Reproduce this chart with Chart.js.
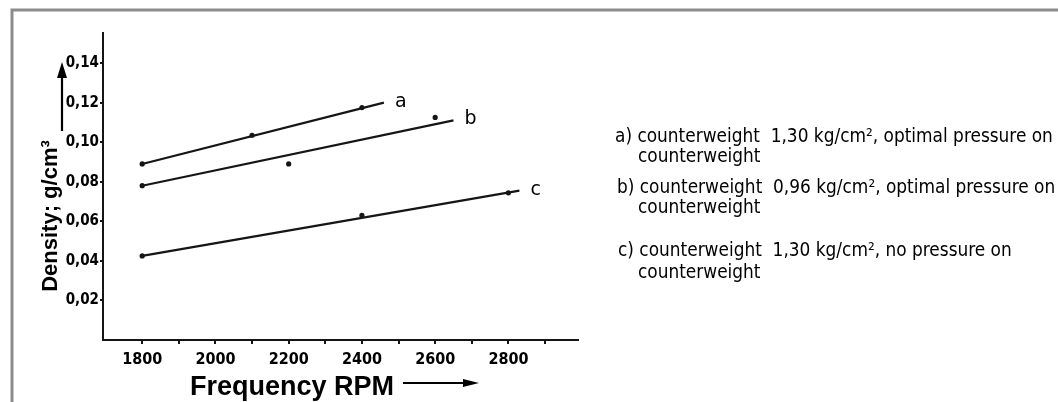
<!DOCTYPE html>
<html>
<head>
<meta charset="utf-8">
<script src="https://cdn.jsdelivr.net/npm/chart.js@4.4.1/dist/chart.umd.min.js"></script>
<style>
html,body{margin:0;padding:0;background:#fff;}
#wrap{width:1058px;height:402px;position:relative;}
canvas{display:block;}
</style>
</head>
<body>
<div id="wrap"><canvas id="chart" width="1058" height="402"></canvas></div>
<script>
// ---- data ----
const seriesNames = ['a', 'b', 'c'];

const aLineX = [1800, 2460];
const aLineY = [0.089, 0.120];
const aPointX = [1800, 2100, 2400];
const aPointY = [0.089, 0.1035, 0.1175];

const bLineX = [1800, 2650];
const bLineY = [0.078, 0.111];
const bPointX = [1800, 2200, 2600];
const bPointY = [0.078, 0.089, 0.1125];

const cLineX = [1800, 2830];
const cLineY = [0.0425, 0.0755];
const cPointX = [1800, 2400, 2800];
const cPointY = [0.0425, 0.063, 0.0744];

const xTickValues = [1800, 1900, 2000, 2100, 2200, 2300, 2400, 2500, 2600, 2700, 2800, 2900];
const xTickLabels = ['1800', '', '2000', '', '2200', '', '2400', '', '2600', '', '2800', ''];
const yTickValues = [0.02, 0.04, 0.06, 0.08, 0.10, 0.12, 0.14];
const yTickLabels = ['0,02', '0,04', '0,06', '0,08', '0,10', '0,12', '0,14'];

const xTitle = 'Frequency RPM';
const yTitle = 'Density; g/cm³';

const legendLines = [
  'a) counterweight  1,30 kg/cm², optimal pressure on',
  'counterweight',
  'b) counterweight  0,96 kg/cm², optimal pressure on',
  'counterweight',
  'c) counterweight  1,30 kg/cm², no pressure on',
  'counterweight'
];

// ---- helpers ----
const toXY = (xs, ys) => xs.map((x, i) => ({x: x, y: ys[i]}));
const INK = '#151515';

function lineDs(xs, ys) {
  return {type: 'line', data: toXY(xs, ys), showLine: true, borderColor: INK,
          borderWidth: 2.2, pointRadius: 0, fill: false, tension: 0};
}
function pointDs(xs, ys) {
  return {type: 'scatter', data: toXY(xs, ys), showLine: false, pointRadius: 2.6,
          pointBackgroundColor: INK, pointBorderColor: INK, pointBorderWidth: 0};
}

const lineSets = [[aLineX, aLineY], [bLineX, bLineY], [cLineX, cLineY]];

const PAD_LEFT = 63;
const AXIS_LEFT = 103;
const COND = '"Liberation Sans Narrow", "DejaVu Sans Condensed", sans-serif';

const decor = {
  id: 'decor',
  afterDraw(chart) {
    const ctx = chart.ctx;
    const xs = chart.scales.x, ys = chart.scales.y;
    ctx.save();

    // frame (scan border)
    ctx.strokeStyle = '#8c8c8c';
    ctx.lineWidth = 3;
    ctx.beginPath();
    ctx.moveTo(12, 402);
    ctx.lineTo(12, 10);
    ctx.lineTo(1058, 10);
    ctx.stroke();

    // series labels a, b, c at line ends
    ctx.fillStyle = '#000';
    ctx.font = '19px "DejaVu Sans", sans-serif';
    ctx.textAlign = 'left';
    ctx.textBaseline = 'alphabetic';
    lineSets.forEach((s, i) => {
      const lx = s[0][s[0].length - 1], ly = s[1][s[1].length - 1];
      const px = xs.getPixelForValue(lx), py = ys.getPixelForValue(ly);
      ctx.fillText(seriesNames[i], px + 11, py + 4);
    });

    // y title (rotated)
    ctx.save();
    ctx.translate(57, 216);
    ctx.rotate(-Math.PI / 2);
    ctx.font = 'bold 22px "Liberation Sans", Arial, sans-serif';
    ctx.fillStyle = '#000';
    ctx.textAlign = 'center';
    ctx.textBaseline = 'alphabetic';
    ctx.fillText(yTitle, 0, 0);
    ctx.restore();

    // y arrow
    ctx.strokeStyle = '#000';
    ctx.fillStyle = '#000';
    ctx.lineWidth = 2.2;
    ctx.beginPath();
    ctx.moveTo(62, 131);
    ctx.lineTo(62, 76);
    ctx.stroke();
    ctx.beginPath();
    ctx.moveTo(62, 62);
    ctx.lineTo(57, 78);
    ctx.lineTo(67, 78);
    ctx.closePath();
    ctx.fill();

    // x title
    ctx.font = 'bold 27px "Liberation Sans", Arial, sans-serif';
    ctx.textAlign = 'left';
    ctx.textBaseline = 'alphabetic';
    ctx.fillText(xTitle, 190, 395);

    // x arrow
    ctx.beginPath();
    ctx.moveTo(403, 383);
    ctx.lineTo(466, 383);
    ctx.stroke();
    ctx.beginPath();
    ctx.moveTo(479, 383);
    ctx.lineTo(463, 379);
    ctx.lineTo(463, 387);
    ctx.closePath();
    ctx.fill();

    // legend text block
    const fam = '"DejaVu Sans Condensed", "DejaVu Sans", sans-serif';
    ctx.font = '10px ' + fam;
    const w10 = ctx.measureText(legendLines[0]).width;
    const fs = 10 * 438 / w10;
    ctx.font = fs.toFixed(2) + 'px ' + fam;
    ctx.fillStyle = '#000';
    ctx.textBaseline = 'middle';
    const pos = [[615, 137], [638, 157], [617, 188], [638, 208], [618, 251], [638, 273]];
    legendLines.forEach((t, i) => ctx.fillText(t, pos[i][0], pos[i][1]));

    ctx.restore();
  }
};

new Chart(document.getElementById('chart'), {
  type: 'scatter',
  data: {
    datasets: [
      lineDs(aLineX, aLineY), pointDs(aPointX, aPointY),
      lineDs(bLineX, bLineY), pointDs(bPointX, bPointY),
      lineDs(cLineX, cLineY), pointDs(cPointX, cPointY)
    ]
  },
  options: {
    responsive: false,
    animation: false,
    devicePixelRatio: 1,
    layout: {padding: {left: PAD_LEFT, top: 33, right: 480, bottom: 0}},
    plugins: {legend: {display: false}, tooltip: {enabled: false}, title: {display: false}},
    scales: {
      x: {
        type: 'linear', min: 1693, max: 2990,
        afterBuildTicks: s => { s.ticks = xTickValues.map(v => ({value: v})); },
        afterFit: s => { s.height = 62; },
        ticks: {
          autoSkip: false, maxRotation: 0, minRotation: 0, padding: 6,
          color: '#000',
          font: {family: COND, size: 16, weight: 'bold'},
          callback: (v, i) => xTickLabels[i]
        },
        grid: {drawOnChartArea: false, drawTicks: true, tickLength: 4, color: INK, lineWidth: 2},
        border: {display: true, color: INK, width: 2}
      },
      y: {
        type: 'linear', min: 0, max: 0.1552,
        afterBuildTicks: s => { s.ticks = yTickValues.map(v => ({value: v})); },
        afterFit: s => { s.width = AXIS_LEFT - PAD_LEFT; },
        ticks: {
          autoSkip: false, padding: 1,
          color: '#000',
          font: {family: COND, size: 15, weight: 'bold'},
          callback: (v, i) => yTickLabels[i]
        },
        grid: {drawOnChartArea: false, drawTicks: true, tickLength: 3, color: INK, lineWidth: 2},
        border: {display: true, color: INK, width: 2}
      }
    }
  },
  plugins: [decor]
});
</script>
</body>
</html>
